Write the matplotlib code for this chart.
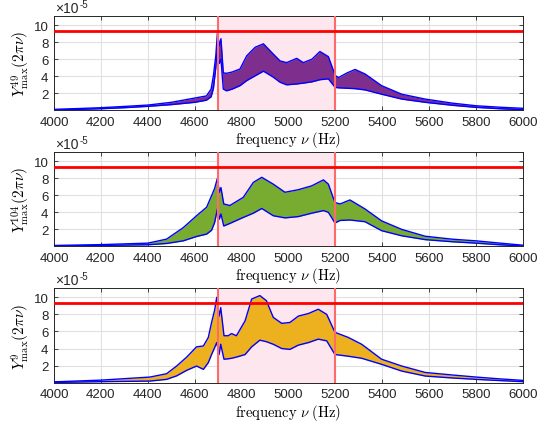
import matplotlib
matplotlib.use("Agg")
import matplotlib.pyplot as plt
from matplotlib.transforms import offset_copy

plt.rcParams["font.family"] = ["Liberation Sans", "DejaVu Sans"]
plt.rcParams["mathtext.fontset"] = "cm"

# values in units of 1e-5
F1 = [4000, 4100, 4200, 4300, 4400, 4500, 4600, 4650, 4670, 4680, 4690, 4697, 4705, 4712,
      4722, 4736, 4760, 4793, 4822, 4858, 4893, 4935, 4964, 4992, 5035, 5063, 5100, 5134,
      5170, 5199, 5213, 5250, 5284, 5327, 5397, 5483, 5583, 5700, 5800, 5900, 6000]
UP1 = [0.13, 0.22, 0.32, 0.47, 0.63, 0.95, 1.45, 1.7, 2.5, 4.1, 6.4, 9.1, 7.6, 8.4,
       4.4, 4.35, 4.5, 4.85, 6.4, 7.4, 7.8, 6.6, 5.8, 5.6, 6.1, 5.6, 6.0, 6.9,
       6.3, 4.1, 3.85, 4.4, 4.8, 4.26, 2.9, 1.9, 1.33, 0.85, 0.55, 0.38, 0.25]
LO1 = [0.05, 0.12, 0.2, 0.32, 0.48, 0.68, 0.95, 1.2, 1.6, 2.6, 5.0, 7.8, 5.5, 6.0,
       2.5, 2.3, 2.5, 2.9, 3.5, 4.06, 4.6, 3.9, 3.3, 3.0, 3.1, 3.2, 3.35, 3.6,
       3.7, 2.7, 2.65, 2.6, 2.55, 2.4, 1.9, 1.33, 0.95, 0.6, 0.36, 0.2, 0.08]

F2 = [4000, 4200, 4400, 4480, 4551, 4608, 4651, 4672, 4685, 4697, 4705, 4712, 4724, 4750,
      4807, 4850, 4886, 4935, 4985, 5042, 5099, 5149, 5170, 5198, 5220, 5262, 5326, 5397,
      5483, 5583, 5700, 5800, 5900, 6000]
UP2 = [0.12, 0.22, 0.39, 0.86, 2.2, 3.6, 4.6, 5.95, 6.8, 8.0, 6.35, 6.9, 4.98, 4.8,
       5.75, 7.5, 8.1, 7.3, 6.35, 6.65, 7.1, 7.8, 7.3, 5.15, 4.98, 5.45, 4.4, 3.0,
       2.0, 1.2, 0.85, 0.66, 0.4, 0.15]
LO2 = [0.05, 0.12, 0.2, 0.35, 0.66, 1.17, 1.45, 1.9, 2.8, 4.4, 3.2, 3.8, 2.4, 2.7,
       3.4, 3.9, 4.45, 3.6, 3.35, 3.5, 3.9, 4.2, 4.0, 2.75, 3.05, 3.1, 2.9, 1.85,
       1.25, 0.8, 0.55, 0.39, 0.2, 0.05]

F3 = [4000, 4200, 4409, 4480, 4523, 4566, 4608, 4637, 4658, 4672, 4685, 4694, 4704, 4711,
      4725, 4743, 4757, 4778, 4815, 4843, 4878, 4906, 4935, 4971, 5006, 5042, 5085, 5127,
      5163, 5198, 5255, 5312, 5397, 5483, 5583, 5700, 5800, 5900, 6000]
UP3 = [0.1, 0.3, 0.66, 1.05, 1.95, 3.0, 4.2, 4.3, 5.3, 7.05, 8.5, 10.0, 7.8, 8.8,
       5.5, 5.5, 5.75, 5.5, 7.25, 9.8, 10.2, 9.6, 7.65, 6.95, 7.05, 7.8, 8.1, 8.6,
       8.0, 5.9, 5.3, 4.5, 2.75, 1.95, 1.2, 0.9, 0.66, 0.45, 0.27]
LO3 = [0.03, 0.12, 0.19, 0.39, 0.8, 1.45, 1.95, 1.56, 2.35, 3.3, 4.1, 4.7, 3.3, 4.5,
       2.75, 2.8, 2.86, 3.0, 3.3, 4.2, 4.98, 4.8, 4.5, 4.0, 3.9, 4.4, 4.7, 5.1,
       4.9, 3.3, 3.1, 2.86, 2.15, 1.36, 0.78, 0.55, 0.39, 0.25, 0.12]

PANELS = [(F1, UP1, LO1, "#7E2F8E", r"$Y^{49}_{\max}(2\pi\nu)$"),
          (F2, UP2, LO2, "#77AC30", r"$Y^{104}_{\max}(2\pi\nu)$"),
          (F3, UP3, LO3, "#EDB120", r"$Y^{9}_{\max}(2\pi\nu)$")]

BAND = (4700, 5200)
THRESH = 9.3
XTICKS = list(range(4000, 6001, 200))
YTICKS = [2, 4, 6, 8, 10]

fig = plt.figure(figsize=(5.53, 4.27), dpi=100)
bottoms = [0.739, 0.4204, 0.1014]
h = 0.221
for (f, up, lo, c, ylab), b in zip(PANELS, bottoms):
    ax = fig.add_axes([0.0976, b, 0.8482, h])
    ax.set_axisbelow(True)
    ax.grid(True, color="#e0e0e0", linewidth=0.8)
    ax.axvspan(*BAND, color="#fde6ee", linewidth=0, zorder=1)
    ax.fill_between(f, lo, up, color=c, linewidth=0, zorder=2)
    ax.plot(f, up, color="#0000ff", linewidth=1.0, zorder=3)
    ax.plot(f, lo, color="#0000ff", linewidth=1.0, zorder=3)
    for xv in BAND:
        ax.axvline(xv, color="#ff6b6b", linewidth=1.5, zorder=4)
    ax.axhline(THRESH, color="#ff0000", linewidth=2.0, zorder=5)
    ax.set_xlim(4000, 6000)
    ax.set_ylim(0, 11.05)
    ax.set_xticks(XTICKS)
    ax.set_yticks(YTICKS)
    ax.tick_params(direction="in", length=3, top=True, right=True, labelsize=9.5,
                   colors="#262626", width=0.6, pad=4)
    for s in ax.spines.values():
        s.set_color("#262626")
        s.set_linewidth(0.7)
    ax.set_xlabel(r"$\mathrm{frequency}\ \nu\ \mathrm{(Hz)}$", fontsize=10.5, labelpad=1)
    ax.set_ylabel(ylab, fontsize=11)
    ax.yaxis.set_label_coords(-0.047, 0.5)
    ax.text(0.003, 1.0, "×10", transform=offset_copy(ax.transAxes, fig=fig, x=0, y=1, units="points"),
            fontsize=10, color="#262626", ha="left", va="bottom")
    ax.text(0.003, 1.0, "-5", transform=offset_copy(ax.transAxes, fig=fig, x=17.5, y=5, units="points"),
            fontsize=7, color="#262626", ha="left", va="bottom")

fig.savefig("out.png", dpi=100)
